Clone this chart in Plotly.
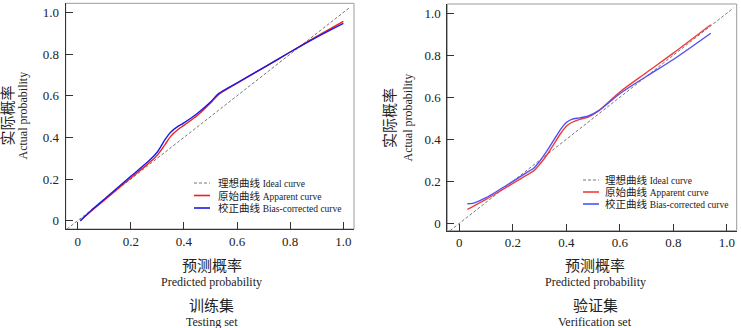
import plotly.graph_objects as go

# ---------------- data ----------------
ideal_train = [-0.04, 1.025]
ideal_valid = [-0.035, 1.025]

train_x = [0.01, 0.05, 0.1, 0.15, 0.2, 0.25, 0.28, 0.3, 0.33, 0.35, 0.38, 0.4, 0.45, 0.5, 0.53, 0.6, 0.7, 0.8, 0.9, 1.0]
train_apparent = [0.0, 0.045, 0.098, 0.152, 0.205, 0.257, 0.29, 0.315, 0.368, 0.405, 0.44, 0.458, 0.505, 0.565, 0.605, 0.66, 0.735, 0.81, 0.885, 0.957]
train_bias = [0.0, 0.048, 0.103, 0.158, 0.213, 0.267, 0.302, 0.33, 0.392, 0.425, 0.455, 0.47, 0.515, 0.57, 0.61, 0.662, 0.735, 0.81, 0.882, 0.948]

valid_x = [0.03, 0.05, 0.1, 0.15, 0.2, 0.25, 0.28, 0.3, 0.33, 0.35, 0.38, 0.4, 0.42, 0.45, 0.48, 0.52, 0.6, 0.7, 0.8, 0.94]
valid_apparent = [0.067, 0.08, 0.114, 0.152, 0.19, 0.228, 0.252, 0.28, 0.33, 0.37, 0.43, 0.462, 0.48, 0.495, 0.505, 0.535, 0.625, 0.718, 0.81, 0.945]
valid_bias = [0.093, 0.095, 0.122, 0.16, 0.2, 0.24, 0.265, 0.295, 0.35, 0.39, 0.45, 0.48, 0.495, 0.502, 0.51, 0.535, 0.617, 0.7, 0.78, 0.905]

tick_vals = [0, 0.2, 0.4, 0.6, 0.8, 1.0]
tick_text = ["0", "0.2", "0.4", "0.6", "0.8", "1.0"]

legend_cn = ["理想曲线", "原始曲线", "校正曲线"]
legend_en = ["Ideal curve", "Apparent curve", "Bias-corrected curve"]

x_title_cn, x_title_en = "预测概率", "Predicted probability"
y_title_cn, y_title_en = "实际概率", "Actual probability"
panel_cn = ["训练集", "验证集"]
panel_en = ["Testing set", "Verification set"]

# ---------------- styles ----------------
W, H = 741, 328
FONT = "Liberation Serif, Noto Sans CJK SC, serif"
TXT = "#222222"
RED = ["#f01e1e", "#f03c3c"]
BLUE = ["#1a1ae6", "#5050f5"]


def px(x):
    return x / W


def py(y):
    return 1 - y / H


fig = go.Figure()

panels = [
    dict(xa="x", ya="y", ideal=ideal_train, x=train_x, a=train_apparent, b=train_bias,
         xdom=[px(65.7), px(354)], ydom=[py(229), py(3.3)],
         xr=[-0.045, 1.040], yr=[-0.040, 1.044]),
    dict(xa="x2", ya="y2", ideal=ideal_valid, x=valid_x, a=valid_apparent, b=valid_bias,
         xdom=[px(447.3), px(736.7)], ydom=[py(230.7), py(4)],
         xr=[-0.045, 1.037], yr=[-0.035, 1.044]),
]

for i, p in enumerate(panels):
    fig.add_trace(go.Scatter(x=p["ideal"], y=p["ideal"], mode="lines", xaxis=p["xa"], yaxis=p["ya"],
                             line=dict(color="#666666", width=0.9, dash="3px,2px"), showlegend=False))
    fig.add_trace(go.Scatter(x=p["x"], y=p["a"], mode="lines", xaxis=p["xa"], yaxis=p["ya"],
                             line=dict(color=RED[i], width=1.4, shape="spline", smoothing=0.8), showlegend=False))
    fig.add_trace(go.Scatter(x=p["x"], y=p["b"], mode="lines", xaxis=p["xa"], yaxis=p["ya"],
                             line=dict(color=BLUE[i], width=1.4, shape="spline", smoothing=0.8), showlegend=False))

axis_common = dict(showgrid=False, zeroline=False, showline=True, linecolor="#333333", linewidth=1,
                   ticks="inside", ticklen=7, tickcolor="#333333", tickwidth=1,
                   tickvals=tick_vals, ticktext=tick_text,
                   tickfont=dict(family=FONT, size=13, color=TXT))

layout = dict(width=W, height=H, margin=dict(l=0, r=0, t=0, b=0),
              paper_bgcolor="white", plot_bgcolor="white", showlegend=False,
              font=dict(family=FONT, color=TXT))
for i, p in enumerate(panels):
    sfx = "" if i == 0 else "2"
    layout["xaxis" + sfx] = dict(axis_common, domain=p["xdom"], range=p["xr"], anchor="y" + sfx)
    layout["yaxis" + sfx] = dict(axis_common, domain=p["ydom"], range=p["yr"], anchor="x" + sfx,
                                 ticklabelstandoff=3)
fig.update_layout(**layout)

shapes = []
annotations = []

# gray frame (top/right)
for i, p in enumerate(panels):
    sfx = "" if i == 0 else "2"
    shapes.append(dict(type="rect", xref="x" + sfx + " domain", yref="y" + sfx + " domain",
                       x0=0, x1=1, y0=0, y1=1, line=dict(color="#9a9a9a", width=1), layer="below"))

# titles
title_pos = [
    dict(cx=212, ycx=7.5, ycx2=22.5, ycy=116),
    dict(cx=595, ycx=390, ycx2=407.5, ycy=118),
]
for i, t in enumerate(title_pos):
    annotations += [
        dict(text=x_title_cn, x=px(t["cx"]), y=py(266), xref="paper", yref="paper", showarrow=False,
             xanchor="center", yanchor="middle", font=dict(family=FONT, size=15, color=TXT)),
        dict(text=x_title_en, x=px(t["cx"]), y=py(282), xref="paper", yref="paper", showarrow=False,
             xanchor="center", yanchor="middle", font=dict(family=FONT, size=12, color=TXT)),
        dict(text=panel_cn[i], x=px(t["cx"]), y=py(306), xref="paper", yref="paper", showarrow=False,
             xanchor="center", yanchor="middle", font=dict(family=FONT, size=15, color=TXT)),
        dict(text=panel_en[i], x=px(t["cx"]), y=py(321.5), xref="paper", yref="paper", showarrow=False,
             xanchor="center", yanchor="middle", font=dict(family=FONT, size=12, color=TXT)),
        dict(text=y_title_cn, x=px(t["ycx"]), y=py(t["ycy"]), xref="paper", yref="paper", showarrow=False,
             textangle=-90, xanchor="center", yanchor="middle", font=dict(family=FONT, size=15, color=TXT)),
        dict(text=y_title_en, x=px(t["ycx2"]), y=py(t["ycy"]), xref="paper", yref="paper", showarrow=False,
             textangle=-90, xanchor="center", yanchor="middle", font=dict(family=FONT, size=12, color=TXT)),
    ]

# manual legends
leg_pos = [
    dict(lx0=194, lx1=210, tx=216, rows=[183, 195.5, 208], colors=["#666666", RED[0], BLUE[0]]),
    dict(lx0=583, lx1=599, tx=603, rows=[180, 192, 204], colors=["#666666", RED[1], BLUE[1]]),
]
for lp in leg_pos:
    for k in range(3):
        yy = py(lp["rows"][k])
        shapes.append(dict(type="line", xref="paper", yref="paper", x0=px(lp["lx0"]), x1=px(lp["lx1"]),
                           y0=yy, y1=yy,
                           line=dict(color=lp["colors"][k], width=0.9 if k == 0 else 1.6,
                                     dash="3px,2px" if k == 0 else "solid")))
        annotations.append(dict(
            text=legend_cn[k] + " <span style='font-size:9.5px'>" + legend_en[k] + "</span>",
            x=px(lp["tx"]), y=yy, xref="paper", yref="paper", showarrow=False,
            xanchor="left", yanchor="middle", font=dict(family=FONT, size=10.5, color=TXT)))

fig.update_layout(shapes=shapes, annotations=annotations)
fig.write_html("out.html", config={"displayModeBar": False},
               post_script="document.body.style.margin='0';")
